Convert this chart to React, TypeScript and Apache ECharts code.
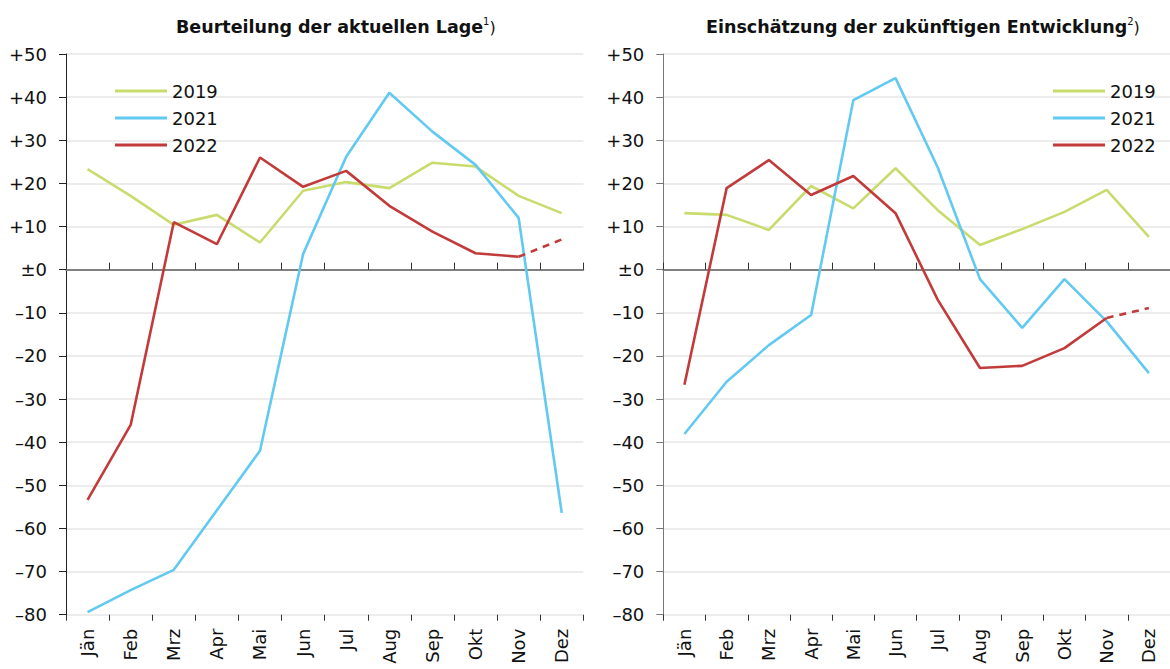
import React, { useEffect, useRef } from "react";
import * as echarts from "echarts";

const months = ["Jän", "Feb", "Mrz", "Apr", "Mai", "Jun", "Jul", "Aug", "Sep", "Okt", "Nov", "Dez"];
const legendNames = ["2019", "2021", "2022"];

// Beurteilung der aktuellen Lage
const lage2019 = [23.3, 17.1, 10.4, 12.7, 6.3, 18.3, 20.3, 18.9, 24.8, 23.9, 17.1, 13.1];
const lage2021 = [-79.4, -74.3, -69.6, -55.8, -42.0, 3.6, 26.2, 41.0, 32.0, 24.3, 12.0, -56.4];
const lage2022 = [-53.4, -36.0, 11.0, 5.9, 26.0, 19.2, 22.9, 14.8, 8.8, 3.8, 3.0, null];
const lage2022Prognose = [null, null, null, null, null, null, null, null, null, null, 3.0, 7.0];

// Einschätzung der zukünftigen Entwicklung
const entw2019 = [13.1, 12.7, 9.2, 19.4, 14.2, 23.5, 13.8, 5.7, 9.4, 13.4, 18.5, 7.6];
const entw2021 = [-38.1, -26.0, -17.5, -10.5, 39.3, 44.4, 23.7, -2.2, -13.5, -2.2, -12.0, -24.0];
const entw2022 = [-26.7, 18.9, 25.4, 17.3, 21.7, 13.1, -7.0, -22.8, -22.3, -18.2, -11.2, null];
const entw2022Prognose = [null, null, null, null, null, null, null, null, null, null, -11.2, -8.9];

const FONT = "DejaVu Sans";
const C2019 = "#c8dc6e";
const C2021 = "#62c9f1";
const C2022 = "#c23b3b";

const yFormatter = (v: number) => (v > 0 ? "+" + v : v === 0 ? "±0" : "–" + Math.abs(v));

function panel(g: number, axisColor: string, s2019: any[], s2021: any[], s2022: any[], s2022p: any[]) {
  const xAxes = [
    {
      type: "category",
      gridIndex: g,
      data: months,
      position: "bottom",
      axisLine: { show: false, onZero: false },
      axisTick: { show: false },
      axisLabel: { rotate: 90, fontSize: 18, color: "#111", margin: 14, fontFamily: FONT },
    },
    {
      type: "category",
      gridIndex: g,
      data: months,
      position: "top",
      axisLine: { show: true, onZero: true, lineStyle: { color: "#808080", width: 2 } },
      axisTick: { show: true, length: 7, lineStyle: { color: "#333", width: 1 } },
      axisLabel: { show: false },
    },
    {
      type: "category",
      gridIndex: g,
      data: months,
      position: "bottom",
      axisLine: { show: false, onZero: true },
      axisTick: { show: true, length: 6, lineStyle: { color: "#333", width: 1 } },
      axisLabel: { show: false },
    },
  ];
  const yAxis = {
    type: "value",
    gridIndex: g,
    min: -80,
    max: 50,
    interval: 10,
    axisLine: { show: true, lineStyle: { color: axisColor, width: 1 } },
    axisTick: { show: true, length: 7, lineStyle: { color: axisColor, width: 1 } },
    splitLine: { show: true, lineStyle: { color: "#ececec", width: 2 } },
    axisLabel: { formatter: yFormatter, fontSize: 18, color: "#111", margin: 19, fontFamily: FONT },
  };
  const xi = g * 3;
  const mk = (name: string, data: any[], color: string, dashed = false) => ({
    type: "line",
    name,
    xAxisIndex: xi,
    yAxisIndex: g,
    data,
    symbol: "none",
    connectNulls: false,
    lineStyle: { color, width: 2.6, type: dashed ? [7, 6] : "solid" },
    itemStyle: { color },
    z: 3,
  });
  const series = [
    mk("2019", s2019, C2019),
    mk("2021", s2021, C2021),
    mk("2022", s2022, C2022),
    mk("2022 Prognose", s2022p, C2022, true),
  ];
  return { xAxes, yAxis, series };
}

const titleRich = {
  b: { fontSize: 17.5, fontWeight: "bold", fontFamily: FONT, color: "#111", lineHeight: 22 },
  s: { fontSize: 10, fontWeight: "normal", fontFamily: FONT, color: "#111", verticalAlign: "top", lineHeight: 12 },
  p: { fontSize: 16, fontWeight: "normal", fontFamily: FONT, color: "#111", lineHeight: 22 },
};

export default function App() {
  const ref = useRef<HTMLDivElement>(null);
  useEffect(() => {
    const chart = echarts.init(ref.current!, null, { renderer: "svg" });
    const p0 = panel(0, "#222", lage2019, lage2021, lage2022, lage2022Prognose);
    const p1 = panel(1, "#777", entw2019, entw2021, entw2022, entw2022Prognose);
    const legendBase = {
      orient: "vertical",
      top: 76,
      itemWidth: 52,
      itemHeight: 3,
      itemGap: 7,
      icon: "rect",
      selectedMode: false,
      data: legendNames,
      textStyle: { fontSize: 18, lineHeight: 20, color: "#111", fontFamily: FONT },
    };
    chart.setOption({
      animation: false,
      backgroundColor: "#fff",
      title: [
        { left: 176, top: 16, padding: 0, text: "{b|Beurteilung der aktuellen Lage}{s|1}{p|)}", textStyle: { fontWeight: "normal", rich: titleRich } },
        { left: 706, top: 16, padding: 0, text: "{b|Einschätzung der zukünftigen Entwicklung}{s|2}{p|)}", textStyle: { fontWeight: "normal", rich: titleRich } },
      ],
      legend: [
        { ...legendBase, left: 110 },
        { ...legendBase, left: 1048 },
      ],
      grid: [
        { left: 66, top: 54, width: 517.3, height: 560.7, containLabel: false },
        { left: 663.3, top: 54, width: 517.3, height: 560.7, containLabel: false },
      ],
      xAxis: [...p0.xAxes, ...p1.xAxes],
      yAxis: [p0.yAxis, p1.yAxis],
      series: [...p0.series, ...p1.series],
    });
    return () => chart.dispose();
  }, []);
  return (
    <div
      ref={ref}
      style={{ position: "fixed", left: 0, top: 0, width: 1170, height: 669, background: "#fff" }}
    />
  );
}
